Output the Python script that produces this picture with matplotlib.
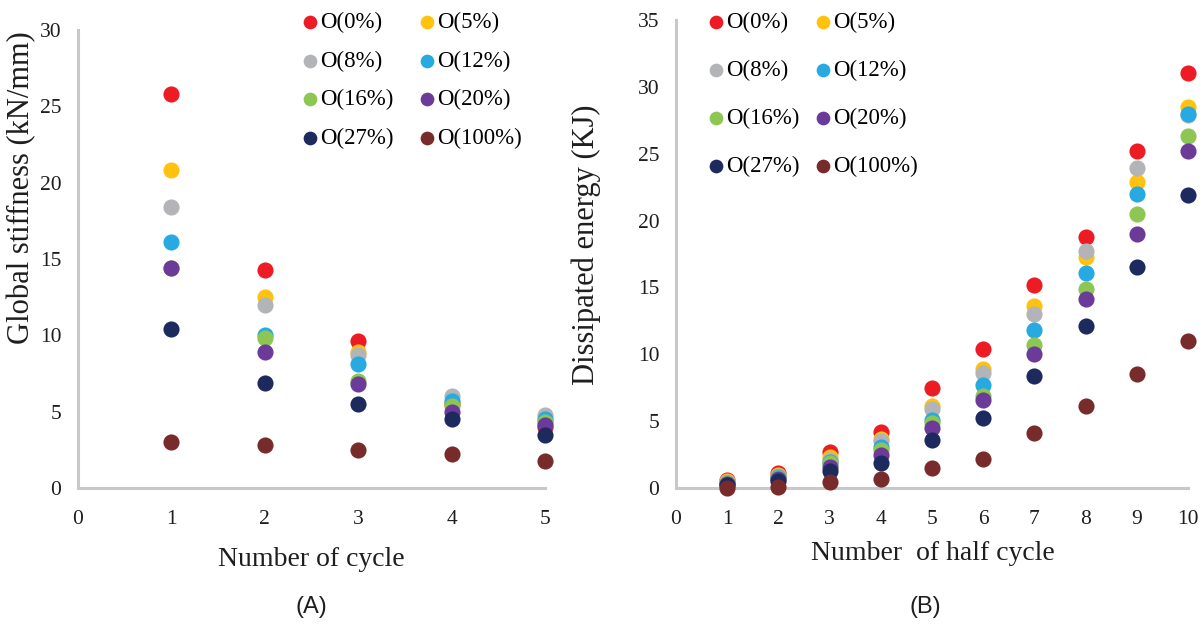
import matplotlib
matplotlib.use("Agg")
import matplotlib.pyplot as plt

# series names and colours
labels = ["O(0%)", "O(5%)", "O(8%)", "O(12%)", "O(16%)", "O(20%)", "O(27%)", "O(100%)"]
colors = ["#ED1C24", "#FFC20E", "#B3B4B7", "#27AAE1", "#8DC652", "#6C3A98", "#1C2A5E", "#772B2B"]

# (A) global stiffness vs cycle
cycles = [1, 2, 3, 4, 5]
stiff_0 = [25.8, 14.3, 9.6, 5.5, 4.0]
stiff_5 = [20.8, 12.5, 8.9, 5.6, 4.4]
stiff_8 = [18.4, 12.0, 8.7, 6.0, 4.8]
stiff_12 = [16.1, 10.0, 8.1, 5.7, 4.5]
stiff_16 = [14.4, 9.8, 7.0, 5.4, 4.3]
stiff_20 = [14.4, 8.9, 6.8, 5.0, 4.1]
stiff_27 = [10.4, 6.9, 5.5, 4.5, 3.5]
stiff_100 = [3.0, 2.8, 2.5, 2.2, 1.8]

# (B) dissipated energy vs half cycle
half_cycles = [1, 2, 3, 4, 5, 6, 7, 8, 9, 10]
energy_0 = [0.6, 1.1, 2.7, 4.2, 7.5, 10.4, 15.2, 18.8, 25.2, 31.0]
energy_5 = [0.5, 1.0, 2.3, 3.7, 6.1, 8.9, 13.6, 17.3, 22.9, 28.5]
energy_8 = [0.45, 0.9, 2.1, 3.5, 5.9, 8.6, 13.0, 17.7, 23.9, 27.9]
energy_12 = [0.4, 0.85, 1.95, 3.1, 5.1, 7.7, 11.8, 16.1, 22.0, 28.0]
energy_16 = [0.35, 0.75, 1.85, 2.85, 4.85, 6.9, 10.7, 14.9, 20.5, 26.3]
energy_20 = [0.3, 0.65, 1.6, 2.5, 4.5, 6.6, 10.0, 14.1, 19.0, 25.2]
energy_27 = [0.2, 0.5, 1.25, 1.9, 3.6, 5.2, 8.4, 12.1, 16.5, 21.9]
energy_100 = [0.0, 0.1, 0.42, 0.7, 1.5, 2.2, 4.1, 6.1, 8.5, 11.0]

stiffness = [stiff_0, stiff_5, stiff_8, stiff_12, stiff_16, stiff_20, stiff_27, stiff_100]
energy = [energy_0, energy_5, energy_8, energy_12, energy_16, energy_20, energy_27, energy_100]

serif = "Liberation Serif"
sans = "Liberation Sans"
spine_color = "#C8C8C8"
text_color = "#1E1E1E"

fig = plt.figure(figsize=(12.03, 6.25), dpi=100)
ax1 = fig.add_axes([78 / 1203, 137 / 625, 467 / 1203, 458 / 625])
ax2 = fig.add_axes([676 / 1203, 137 / 625, 512 / 1203, 468 / 625])


def style_axes(ax):
    for side in ["top", "right"]:
        ax.spines[side].set_visible(False)
    for side in ["left", "bottom"]:
        ax.spines[side].set_color(spine_color)
        ax.spines[side].set_linewidth(2.2)
    ax.tick_params(length=0, labelsize=15.5, colors=text_color)
    ax.tick_params(axis="x", pad=16)
    ax.tick_params(axis="y", pad=12)
    for lab in ax.get_xticklabels() + ax.get_yticklabels():
        lab.set_fontfamily(serif)


def row_legend(ax, anchor_x, spacing, colspace):
    # matplotlib fills legend columns first, the chart reads row by row
    handles, labs = ax.get_legend_handles_labels()
    order = [0, 2, 4, 6, 1, 3, 5, 7]
    ax.legend([handles[i] for i in order], [labs[i] for i in order],
              ncol=2, frameon=False, prop={"family": serif, "size": 16.5},
              handlelength=0.6, handletextpad=0.15, borderaxespad=0,
              markerscale=0.85, labelspacing=spacing, columnspacing=colspace,
              loc="upper left", bbox_to_anchor=(anchor_x / 1203, 1 - 3 / 625),
              bbox_transform=fig.transFigure)


# left panel
for vals, lab, col in zip(stiffness, labels, colors):
    ax1.scatter(cycles, vals, s=135, color=col, label=lab, zorder=3,
                linewidths=0, clip_on=False)
ax1.set_xlim(0, 5)
ax1.set_ylim(0, 30)
ax1.set_xticks(range(0, 6))
ax1.set_yticks(range(0, 31, 5))
style_axes(ax1)
ax1.set_xlabel("Number of cycle", fontsize=20, fontfamily=serif, color=text_color)
ax1.xaxis.set_label_coords(0.5, -0.128)
ax1.set_ylabel("Global stiffness (kN/mm)", fontsize=22, fontfamily=serif, color=text_color)
ax1.yaxis.set_label_coords(-0.09, 0.655)
row_legend(ax1, 294, 0.76, 1.14)

# right panel
for vals, lab, col in zip(energy, labels, colors):
    ax2.scatter(half_cycles, vals, s=135, color=col, label=lab, zorder=3,
                linewidths=0, clip_on=False)
ax2.set_xlim(0, 10)
ax2.set_ylim(0, 35)
ax2.set_xticks(range(0, 11))
ax2.set_yticks(range(0, 36, 5))
style_axes(ax2)
ax2.set_xlabel("Number  of half cycle", fontsize=20, fontfamily=serif, color=text_color)
ax2.xaxis.set_label_coords(0.502, -0.113)
ax2.set_ylabel("Dissipated energy (KJ)", fontsize=22, fontfamily=serif, color=text_color)
ax2.yaxis.set_label_coords(-0.147, 0.52)
row_legend(ax2, 700, 1.16, 0.7)

fig.text(311 / 1203, 1 - 607 / 625, "(A)", fontsize=17, fontfamily=sans,
         ha="center", va="center", color=text_color)
fig.text(925 / 1203, 1 - 607 / 625, "(B)", fontsize=17, fontfamily=sans,
         ha="center", va="center", color=text_color)

fig.savefig("out.png", dpi=100)
